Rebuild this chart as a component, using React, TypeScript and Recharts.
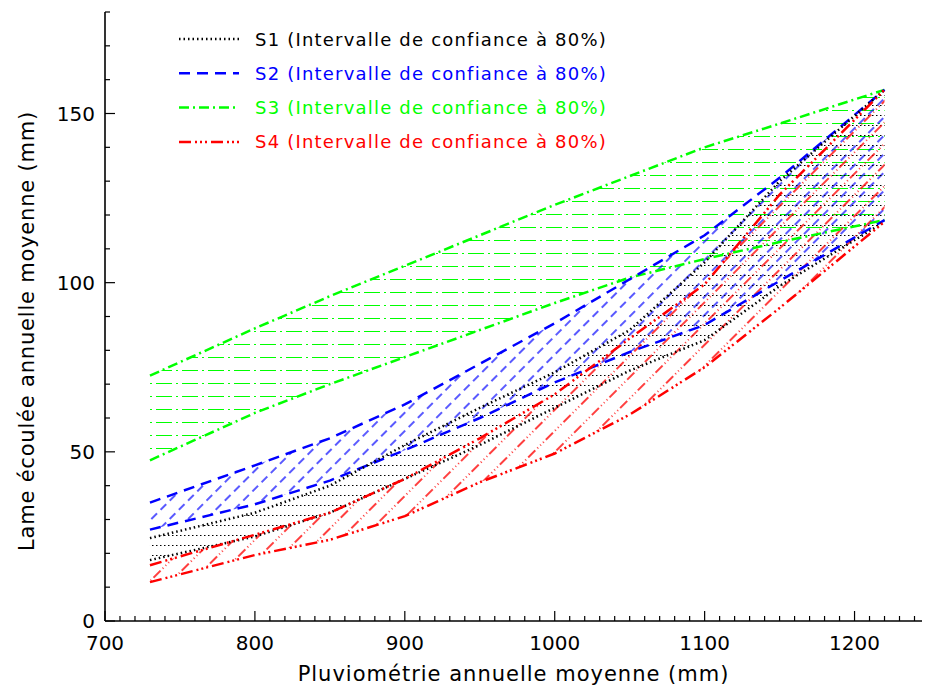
import { ComposedChart, Line, Area, XAxis, YAxis } from "recharts";

// Pluviométrie annuelle moyenne (mm)
const rain = [730, 800, 850, 900, 950, 1000, 1050, 1100, 1150, 1220];

// bornes des intervalles de confiance à 80% (lame écoulée, mm)
const s1Low = [18, 25, 32, 42, 52, 63, 74, 83, 99, 118];
const s1High = [24.5, 32, 40, 52, 63, 73.5, 86, 106, 130, 157];
const s2Low = [27, 34.5, 41.5, 50.5, 60, 70.5, 79.5, 87.5, 100.5, 118.5];
const s2High = [35, 46, 54, 64, 76, 88, 101, 114, 131, 157];
const s3Low = [47.5, 61.5, 70, 78, 86, 94, 101.5, 107, 112, 118.5];
const s3High = [72.5, 86.5, 96, 105, 114, 123, 131.5, 140, 147, 157];
const s4Low = [11.5, 19.5, 24, 31, 41, 49.5, 61, 75, 92.5, 118];
const s4High = [16.5, 25.5, 32, 42, 54, 67, 83.5, 99.5, 126, 157];

const seriesNames = ["S1", "S2", "S3", "S4"];
const legendText = "(Intervalle de confiance à 80%)";
const xTitle = "Pluviométrie annuelle moyenne (mm)";
const yTitle = "Lame écoulée annuelle moyenne (mm)";

const xMajor = [700, 800, 900, 1000, 1100, 1200];
const yMajor = [0, 50, 100, 150];
const xTicks = Array.from({ length: 55 }, (_, i) => 700 + i * 10);
const yTicks = Array.from({ length: 19 }, (_, i) => i * 10);

const data = rain.map((x, i) => ({
  x,
  s1: [s1Low[i], s1High[i]],
  s2: [s2Low[i], s2High[i]],
  s3: [s3Low[i], s3High[i]],
  s4: [s4Low[i], s4High[i]],
  s1lo: s1Low[i],
  s1hi: s1High[i],
  s2lo: s2Low[i],
  s2hi: s2High[i],
  s3lo: s3Low[i],
  s3hi: s3High[i],
  s4lo: s4Low[i],
  s4hi: s4High[i],
}));

const FONT = "DejaVu Sans";
const colors = ["#000000", "#0000ff", "#00ff00", "#ff0000"];
const dashes = ["1.5 3", "11 7", "10 4 2 4", "12 4 2 3 2 3 2 4"];

const BottomTick = (props: any) => {
  const { x, y, payload } = props;
  const major = xMajor.includes(payload.value);
  return (
    <g>
      <line x1={x} x2={x} y1={y} y2={y - (major ? 10 : 5)} stroke="#000" strokeWidth={1.2} />
      {major && (
        <text x={x} y={y + 29} textAnchor="middle" fontSize={20} fontFamily={FONT} fill="#000">
          {payload.value}
        </text>
      )}
    </g>
  );
};

const TopTick = (props: any) => {
  const { x, y, payload } = props;
  const major = xMajor.includes(payload.value);
  return <line x1={x} x2={x} y1={y} y2={y + (major ? 10 : 5)} stroke="#000" strokeWidth={1.2} />;
};

const LeftTick = (props: any) => {
  const { x, y, payload } = props;
  const major = yMajor.includes(payload.value);
  return (
    <g>
      <line x1={x} x2={x + (major ? 10 : 5)} y1={y} y2={y} stroke="#000" strokeWidth={1.2} />
      {major && (
        <text x={x - 10} y={y + 7} textAnchor="end" fontSize={20} fontFamily={FONT} fill="#000">
          {payload.value}
        </text>
      )}
    </g>
  );
};

const RightTick = (props: any) => {
  const { x, y, payload } = props;
  const major = yMajor.includes(payload.value);
  return <line x1={x} x2={x - (major ? 10 : 5)} y1={y} y2={y} stroke="#000" strokeWidth={1.2} />;
};

function Overlay() {
  return (
    <svg width={925} height={691} style={{ position: "absolute", left: 0, top: 0, pointerEvents: "none" }}>
      {seriesNames.map((s, i) => (
        <g key={s}>
          <line
            x1={179}
            x2={239}
            y1={39 + i * 34.3}
            y2={39 + i * 34.3}
            stroke={colors[i]}
            strokeWidth={2.5}
            strokeDasharray={dashes[i]}
          />
          <text
            x={255}
            y={39 + i * 34.3 + 6.5}
            fontSize={18}
            fontFamily={FONT}
            fill={colors[i]}
            style={{ letterSpacing: 1.2 }}
          >
            {s} {legendText}
          </text>
        </g>
      ))}
      <text
        x={27}
        y={331}
        transform="rotate(-90 27 331)"
        dy={7}
        textAnchor="middle"
        fontSize={21}
        fontFamily={FONT}
        fill="#000"
        style={{ letterSpacing: 0.8 }}
      >
        {yTitle}
      </text>
    </svg>
  );
}

export default function App() {
  const axisLine = { stroke: "#000", strokeWidth: 1.6 };
  return (
    <div style={{ position: "absolute", left: 0, top: 0, width: 925, height: 691, background: "#fff" }}>
      <ComposedChart
        width={925}
        height={691}
        data={data}
        margin={{ top: 12, right: 3, bottom: 0, left: 0 }}
        style={{ fontFamily: FONT }}
      >
        <defs>
          <pattern id="hatchS1" patternUnits="userSpaceOnUse" width={4} height={10}>
            <line x1={0} x2={4} y1={5.5} y2={5.5} stroke="#000" strokeWidth={1} strokeDasharray="1.5 2.5" />
          </pattern>
          <pattern id="hatchS2" patternUnits="userSpaceOnUse" width={13} height={13} patternTransform="rotate(-45)">
            <line x1={0} x2={13} y1={6} y2={6} stroke="#0000ff" strokeWidth={1.3} strokeDasharray="8 5" />
          </pattern>
          <pattern id="hatchS3" patternUnits="userSpaceOnUse" width={26} height={13}>
            <line x1={0} x2={26} y1={6.5} y2={6.5} stroke="#00ff00" strokeWidth={1} strokeDasharray="16 4 2 4" />
          </pattern>
          <pattern id="hatchS4" patternUnits="userSpaceOnUse" width={25} height={15} patternTransform="rotate(-45)">
            <line x1={0} x2={25} y1={7} y2={7} stroke="#ff0000" strokeWidth={1.3} strokeDasharray="10 3 1 3 1 3 1 3" />
          </pattern>
        </defs>

        <XAxis
          xAxisId="b"
          dataKey="x"
          type="number"
          orientation="bottom"
          domain={[700, 1245]}
          allowDataOverflow
          ticks={xTicks}
          interval={0}
          tick={<BottomTick />}
          tickLine={false}
          tickSize={0}
          tickMargin={0}
          axisLine={axisLine}
          height={70}
          label={{
            value: xTitle,
            position: "insideBottom",
            offset: 10,
            fontSize: 21,
            fill: "#000",
            style: { letterSpacing: 1, fontFamily: FONT },
          }}
        />
        <XAxis
          xAxisId="t"
          dataKey="x"
          type="number"
          orientation="top"
          domain={[700, 1245]}
          allowDataOverflow
          ticks={xTicks}
          interval={0}
          tick={<TopTick />}
          tickLine={false}
          tickSize={0}
          tickMargin={0}
          axisLine={axisLine}
          height={0}
        />
        <YAxis
          yAxisId="l"
          type="number"
          orientation="left"
          domain={[0, 180]}
          allowDataOverflow
          ticks={yTicks}
          interval={0}
          tick={<LeftTick />}
          tickLine={false}
          tickSize={0}
          tickMargin={0}
          axisLine={axisLine}
          width={105}
        />
        <YAxis
          yAxisId="r"
          type="number"
          orientation="right"
          domain={[0, 180]}
          allowDataOverflow
          ticks={yTicks}
          interval={0}
          tick={<RightTick />}
          tickLine={false}
          tickSize={0}
          tickMargin={0}
          axisLine={axisLine}
          width={0}
        />

        <Area xAxisId="b" yAxisId="l" type="linear" dataKey="s3" stroke="none" fill="url(#hatchS3)" fillOpacity={1} isAnimationActive={false} />
        <Area xAxisId="b" yAxisId="l" type="linear" dataKey="s2" stroke="none" fill="url(#hatchS2)" fillOpacity={1} isAnimationActive={false} />
        <Area xAxisId="b" yAxisId="l" type="linear" dataKey="s1" stroke="none" fill="url(#hatchS1)" fillOpacity={1} isAnimationActive={false} />
        <Area xAxisId="b" yAxisId="l" type="linear" dataKey="s4" stroke="none" fill="url(#hatchS4)" fillOpacity={1} isAnimationActive={false} />

        {["s3", "s2", "s1", "s4"].map((k) => {
          const i = Number(k[1]) - 1;
          return [
            <Line key={k + "lo"} xAxisId="b" yAxisId="l" type="linear" dataKey={k + "lo"} stroke={colors[i]} strokeWidth={2.5} strokeDasharray={dashes[i]} dot={false} activeDot={false} isAnimationActive={false} />,
            <Line key={k + "hi"} xAxisId="b" yAxisId="l" type="linear" dataKey={k + "hi"} stroke={colors[i]} strokeWidth={2.5} strokeDasharray={dashes[i]} dot={false} activeDot={false} isAnimationActive={false} />,
          ];
        })}
      </ComposedChart>
      <Overlay />
    </div>
  );
}
